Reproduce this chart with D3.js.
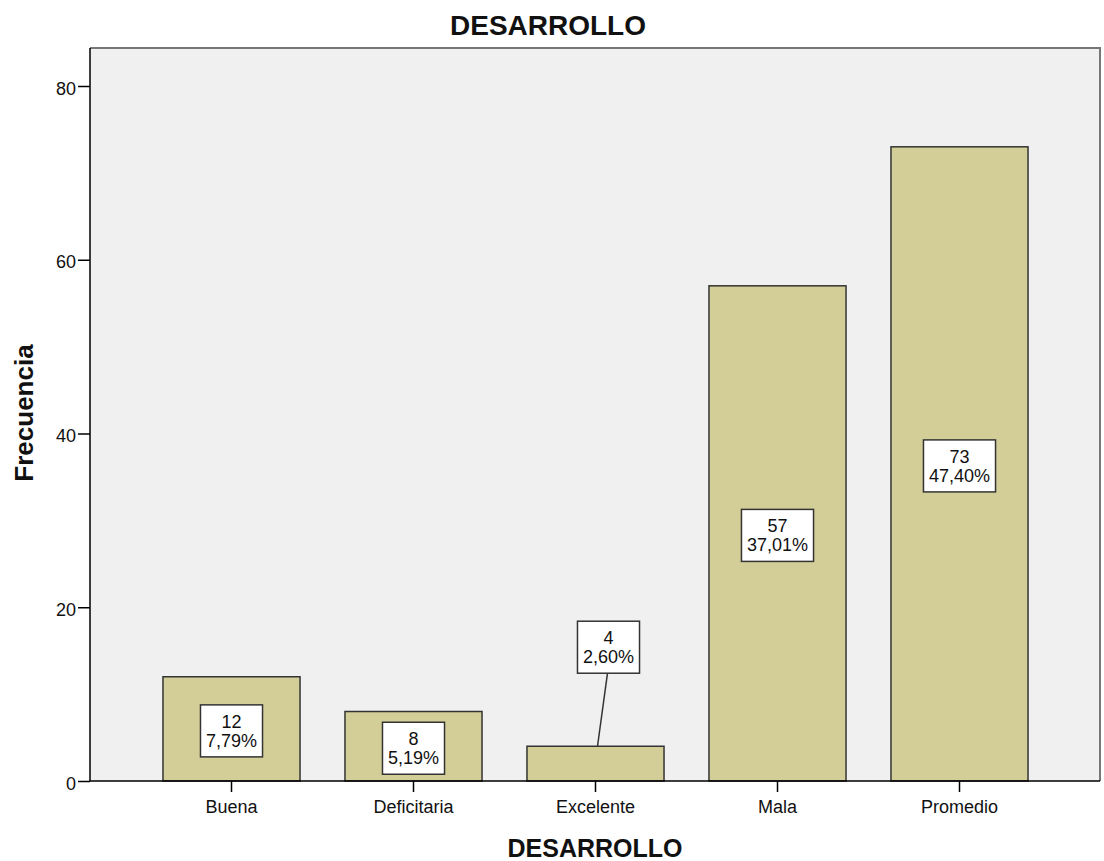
<!DOCTYPE html>
<html>
<head>
<meta charset="utf-8">
<script src="https://cdn.jsdelivr.net/npm/d3@7"></script>
<style>
  body { margin: 0; background: #fff; }
  text { font-family: "Liberation Sans", Arial, sans-serif; }
</style>
</head>
<body>
<div class="chart"></div>
<script>
// data
const categories = ["Buena", "Deficitaria", "Excelente", "Mala", "Promedio"];
const counts = [12, 8, 4, 57, 73];
const percents = ["7,79%", "5,19%", "2,60%", "37,01%", "47,40%"];
const yTicks = [0, 20, 40, 60, 80];

const W = 1104, H = 861;
const plot = { left: 90, right: 1100, top: 48, bottom: 781 };

const svg = d3.select(".chart").append("svg")
    .attr("width", W)
    .attr("height", H);

// scales
const x = d3.scaleBand()
    .domain(categories)
    .range([140.5, 1050.5])
    .paddingInner(0.247)
    .paddingOuter(0.1235);

const y = d3.scaleLinear()
    .domain([0, 80])
    .range([plot.bottom, 86]);

// plot background
svg.append("rect")
    .attr("x", plot.left)
    .attr("y", plot.top)
    .attr("width", plot.right - plot.left)
    .attr("height", plot.bottom - plot.top)
    .attr("fill", "#f0f0f0");

// top and right frame
svg.append("path")
    .attr("d", `M${plot.left},${plot.top}H${plot.right}V${plot.bottom}`)
    .attr("fill", "none")
    .attr("stroke", "#777")
    .attr("stroke-width", 2);

// bars
svg.selectAll(".bar")
    .data(categories)
    .enter().append("rect")
    .attr("class", "bar")
    .attr("x", d => x(d))
    .attr("width", x.bandwidth())
    .attr("y", (d, i) => y(counts[i]))
    .attr("height", (d, i) => y(0) - y(counts[i]))
    .attr("fill", "#d3ce98")
    .attr("stroke", "#333")
    .attr("stroke-width", 1.5);

// y axis
const yAxis = svg.append("g")
    .attr("transform", `translate(${plot.left},0)`)
    .call(d3.axisLeft(y).tickValues(yTicks).tickSize(12).tickSizeOuter(0));
yAxis.select(".domain").attr("stroke", "#000").attr("stroke-width", 1.5)
    .attr("d", `M0,${plot.top}V${plot.bottom}`);
yAxis.selectAll(".tick line").attr("stroke", "#000").attr("stroke-width", 1.5);
yAxis.selectAll(".tick text")
    .attr("x", -14)
    .attr("dy", "0.45em")
    .style("font-size", "18px")
    .style("font-family", "Liberation Sans, Arial, sans-serif")
    .attr("fill", "#111");

// x axis
const xAxis = svg.append("g")
    .attr("transform", `translate(0,${plot.bottom})`)
    .call(d3.axisBottom(x).tickSize(11).tickSizeOuter(0));
xAxis.select(".domain").attr("stroke", "#000").attr("stroke-width", 1.5)
    .attr("d", `M${plot.left},0H${plot.right}`);
xAxis.selectAll(".tick line").attr("stroke", "#000").attr("stroke-width", 1.5);
xAxis.selectAll(".tick text")
    .attr("y", 19)
    .style("font-size", "18px")
    .style("font-family", "Liberation Sans, Arial, sans-serif")
    .attr("fill", "#111");

// value labels
const labelH = 52;
// Excelente label sits above its bar with a leader line
const labelCy = counts.map((c, i) => i === 2 ? y(15.4) : (y(c) + y(0)) / 2 + 2);
const labelDx = [0, 0, 13, 0, 0];

// leader line for the small bar
svg.append("line")
    .attr("x1", x(categories[2]) + x.bandwidth() / 2 + 12)
    .attr("y1", labelCy[2] + labelH / 2)
    .attr("x2", x(categories[2]) + x.bandwidth() / 2 + 2)
    .attr("y2", y(counts[2]))
    .attr("stroke", "#333")
    .attr("stroke-width", 1.5);

const labels = svg.selectAll(".lbl")
    .data(categories)
    .enter().append("g")
    .attr("class", "lbl")
    .attr("transform", (d, i) => `translate(${x(d) + x.bandwidth() / 2 + labelDx[i]},${labelCy[i]})`);

const boxes = labels.append("rect")
    .attr("y", -labelH / 2)
    .attr("height", labelH)
    .attr("fill", "#fff")
    .attr("stroke", "#333")
    .attr("stroke-width", 1.5);

labels.append("text")
    .attr("text-anchor", "middle")
    .attr("y", -3)
    .style("font-size", "18px")
    .attr("fill", "#111")
    .text((d, i) => counts[i]);

labels.append("text")
    .attr("class", "pct")
    .attr("text-anchor", "middle")
    .attr("y", 16)
    .style("font-size", "18px")
    .attr("fill", "#111")
    .text((d, i) => percents[i]);

// size the boxes to the percentage text
labels.each(function () {
    const g = d3.select(this);
    const w = g.select(".pct").node().getComputedTextLength() + 11;
    g.select("rect").attr("x", -w / 2).attr("width", w);
});

// titles
svg.append("text")
    .attr("x", 548)
    .attr("y", 35)
    .attr("text-anchor", "middle")
    .style("font-size", "28px")
    .style("font-weight", "bold")
    .attr("fill", "#111")
    .text("DESARROLLO");

svg.append("text")
    .attr("x", 595)
    .attr("y", 857)
    .attr("text-anchor", "middle")
    .style("font-size", "25px")
    .style("font-weight", "bold")
    .attr("fill", "#111")
    .text("DESARROLLO");

svg.append("text")
    .attr("transform", "rotate(-90)")
    .attr("x", -413)
    .attr("y", 33)
    .attr("text-anchor", "middle")
    .style("font-size", "26px")
    .style("font-weight", "bold")
    .attr("fill", "#111")
    .text("Frecuencia");
</script>
</body>
</html>
